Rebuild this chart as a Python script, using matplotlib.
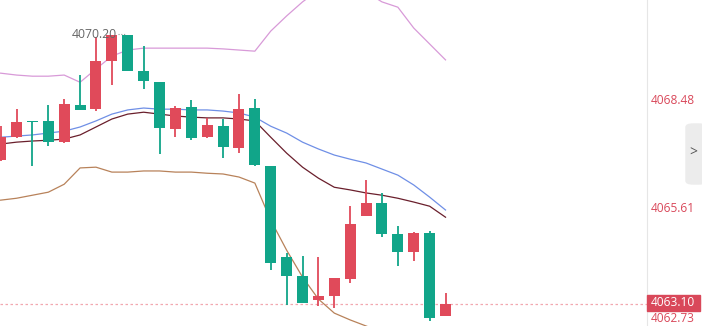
import matplotlib
matplotlib.use("Agg")
import matplotlib.pyplot as plt
from matplotlib.patches import Rectangle, FancyBboxPatch
from matplotlib.transforms import blended_transform_factory

plt.rcParams['font.family'] = ['Open Sans', 'DejaVu Sans']

# candles: red = up, teal = down
opens = [4066.90, 4067.50, 4067.90, 4067.93, 4067.37, 4068.35, 4068.24, 4069.51, 4070.20, 4069.25,
         4068.95, 4067.71, 4068.30, 4067.50, 4067.79, 4067.21, 4068.27, 4066.74, 4064.34, 4063.84,
         4063.20, 4063.31, 4063.76, 4065.42, 4065.76, 4064.94, 4064.47, 4064.97, 4062.78]
highs = [4067.79, 4068.24, 4067.90, 4068.35, 4068.51, 4069.14, 4070.14, 4070.20, 4070.20, 4069.90,
         4068.95, 4068.32, 4068.48, 4068.01, 4067.98, 4068.64, 4068.51, 4066.74, 4064.44, 4064.36,
         4064.34, 4063.78, 4065.68, 4066.37, 4066.03, 4065.16, 4065.00, 4065.02, 4063.39]
lows = [4066.87, 4067.48, 4066.74, 4067.27, 4067.35, 4068.22, 4068.19, 4068.88, 4069.25, 4068.77,
        4067.06, 4067.50, 4067.42, 4067.48, 4066.95, 4067.08, 4066.74, 4064.00, 4063.07, 4063.12,
        4063.04, 4062.99, 4063.65, 4065.42, 4064.87, 4064.10, 4064.23, 4062.65, 4062.78]
closes = [4067.50, 4067.90, 4067.90, 4067.37, 4068.37, 4068.22, 4069.51, 4070.20, 4069.25, 4068.98,
          4067.74, 4068.27, 4067.48, 4067.82, 4067.24, 4068.24, 4066.77, 4064.18, 4063.84, 4063.12,
          4063.31, 4063.78, 4065.21, 4065.76, 4064.94, 4064.47, 4064.97, 4062.73, 4063.10]

upper = [4069.19, 4069.14, 4069.11, 4069.11, 4069.14, 4068.95, 4069.30, 4069.64, 4069.80, 4069.85,
         4069.85, 4069.85, 4069.85, 4069.85, 4069.83, 4069.80, 4069.77, 4070.30, 4070.70, 4071.07,
         4071.38, 4071.54, 4071.51, 4071.33, 4071.07, 4070.93, 4070.38, 4069.96, 4069.54]
ma_blue = [4067.50, 4067.53, 4067.56, 4067.61, 4067.66, 4067.77, 4067.93, 4068.11, 4068.22, 4068.27,
           4068.24, 4068.24, 4068.22, 4068.22, 4068.19, 4068.14, 4068.03, 4067.79, 4067.61, 4067.37,
           4067.19, 4067.03, 4066.92, 4066.82, 4066.66, 4066.50, 4066.24, 4065.92, 4065.58]
ma_dark = [4067.32, 4067.37, 4067.40, 4067.42, 4067.45, 4067.56, 4067.77, 4067.98, 4068.11, 4068.16,
           4068.11, 4068.06, 4068.03, 4068.01, 4068.01, 4067.98, 4067.93, 4067.50, 4067.08, 4066.71,
           4066.42, 4066.18, 4066.11, 4066.03, 4065.97, 4065.89, 4065.79, 4065.68, 4065.39]
lower = [4065.84, 4065.89, 4065.97, 4066.05, 4066.26, 4066.69, 4066.71, 4066.58, 4066.58, 4066.61,
         4066.61, 4066.58, 4066.58, 4066.55, 4066.53, 4066.45, 4066.29, 4065.31, 4064.52, 4063.81,
         4063.23, 4062.86, 4062.68, 4062.52, 4062.36, 4062.25, 4062.15, 4062.04, 4061.94]

price_labels = [4071.35, 4068.48, 4065.61, 4062.73]
last_price = 4063.10
high_label = "4070.20"

RED = "#e04a5a"
TEAL = "#11a589"

fig = plt.figure(figsize=(7.02, 3.26), dpi=100)
ax = fig.add_axes([0, 0, 647 / 702, 1])

x = list(range(len(opens)))
for i in x:
    up = closes[i] >= opens[i] and closes[i] != opens[i]
    col = RED if up else TEAL
    ax.vlines(i, lows[i], highs[i], color=col, lw=1.3, zorder=3)
    bot = min(opens[i], closes[i])
    h = max(abs(closes[i] - opens[i]), 0.03)
    ax.bar(i, h, bottom=bot, width=0.69, color=col, zorder=4, linewidth=0)

ax.plot(x, upper, color="#d89ad8", lw=0.9, zorder=2)
ax.plot(x, ma_blue, color="#6f8fe6", lw=0.9, zorder=2)
ax.plot(x, ma_dark, color="#6a1f2c", lw=0.9, zorder=2)
ax.plot(x, lower, color="#b8825a", lw=0.9, zorder=2)

ax.axhline(last_price, color="#f2a8b0", lw=0.9, ls=(0, (2, 2)), zorder=1)

ax.set_xlim(-0.04, 40.68)
ax.set_ylim(4062.52, 4071.12)
ax.set_xticks([])
ax.set_yticks([])
for s in ["top", "left", "bottom"]:
    ax.spines[s].set_visible(False)
ax.spines["right"].set_color("#e6e6e6")
ax.spines["right"].set_linewidth(0.8)

# high annotation
ax.text(7.33, 4070.22, high_label, ha="right", va="center", fontsize=8.8, color="#666666", zorder=5)
ax.plot([7.4, 7.9], [4070.22, 4070.22], color="#999999", lw=0.8, ls=(0, (1, 1.5)), zorder=5)

# right price axis labels
tr = blended_transform_factory(ax.transAxes, ax.transData)
for p in price_labels:
    ax.text(1.006, p, f"{p:.2f}", transform=tr, ha="left", va="center",
            fontsize=8.6, color="#d9485a", clip_on=False)

# last price tag
fig.patches.append(Rectangle((647 / 702, 1 - 311 / 326), 53 / 702, 16 / 326,
                             transform=fig.transFigure, color="#d9485a", zorder=6))
fig.text(651 / 702, 1 - 303 / 326, f"{last_price:.2f}", ha="left", va="center",
         fontsize=8.6, color="white", zorder=8)

# side tab with chevron
fig.patches.append(FancyBboxPatch((686 / 702, 1 - 184 / 326), 20 / 702, 60 / 326,
                                  boxstyle="round,pad=0,rounding_size=0.01",
                                  transform=fig.transFigure, color="#ececec", zorder=1))
fig.text(693 / 702, 1 - 153 / 326, ">", ha="center", va="center", fontsize=10, color="#555555")

fig.savefig("out.png", dpi=100)
